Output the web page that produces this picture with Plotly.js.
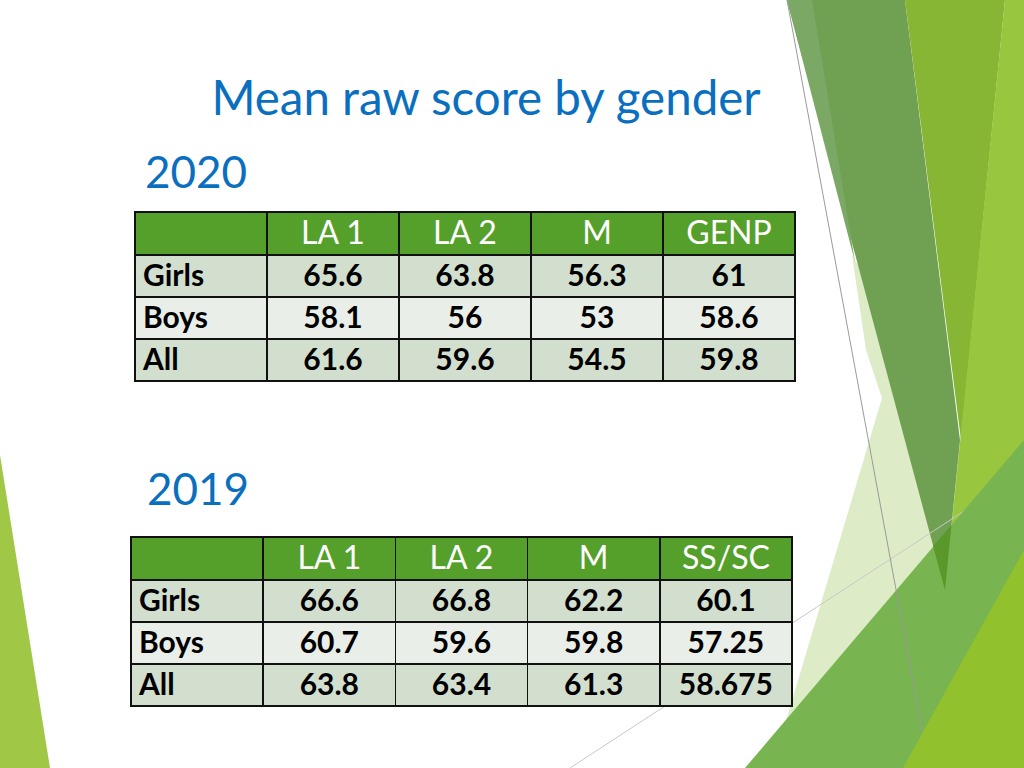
<!DOCTYPE html>
<html>
<head>
<meta charset="utf-8">
<script src="https://cdn.plot.ly/plotly-3.0.1.min.js"></script>
<style>html,body{margin:0;padding:0;background:#fff;}#chart{width:1024px;height:768px;}</style>
</head>
<body>
<div id="chart"></div>
<script>
// ---- data ----
var chartTitle = "Mean raw score by gender";
var years = ["2020", "2019"];
var rowLabels = ["Girls", "Boys", "All"];
var subjects2020 = ["LA 1", "LA 2", "M", "GENP"];
var girls2020 = [65.6, 63.8, 56.3, 61];
var boys2020 = [58.1, 56, 53, 58.6];
var all2020 = [61.6, 59.6, 54.5, 59.8];
var subjects2019 = ["LA 1", "LA 2", "M", "SS/SC"];
var girls2019 = [66.6, 66.8, 62.2, 60.1];
var boys2019 = [60.7, 59.6, 59.8, 57.25];
var all2019 = [63.8, 63.4, 61.3, 58.675];

// ---- styling ----
var W = 1024, H = 768;
var FONT = "Lato, 'Open Sans', sans-serif";
var BLUE = "#0B6FC0";
var HEAD = "#55A02A";
var ROW_DARK = "#D3DFCE";
var ROW_LIGHT = "#EAEEE8";

function px(x) { return x / W; }
function py(y) { return 1 - y / H; }
function poly(pts, color) {
  var d = pts.map(function (p, i) { return (i ? "L" : "M") + px(p[0]).toFixed(5) + "," + py(p[1]).toFixed(5); }).join(" ") + " Z";
  return { type: "path", xref: "paper", yref: "paper", path: d, fillcolor: color, line: { width: 0 }, layer: "below" };
}
function seg(a, b, color) {
  return { type: "line", xref: "paper", yref: "paper", x0: px(a[0]), y0: py(a[1]), x1: px(b[0]), y1: py(b[1]),
    line: { color: color, width: 1 }, layer: "below" };
}

function buildTable(subjects, g, b, a, dom) {
  var values = [rowLabels];
  var fills = [[ROW_DARK, ROW_LIGHT, ROW_DARK]];
  var aligns = ["left"];
  for (var i = 0; i < subjects.length; i++) {
    values.push([g[i], b[i], a[i]]);
    fills.push([ROW_DARK, ROW_LIGHT, ROW_DARK]);
    aligns.push("center");
  }
  return {
    type: "table",
    domain: dom,
    columnwidth: values.map(function () { return 1; }),
    header: {
      values: [""].concat(subjects),
      align: "center",
      height: 43,
      fill: { color: HEAD },
      line: { color: "#111", width: 1.6 },
      font: { family: FONT, size: 32, color: "#fff" }
    },
    cells: {
      values: values,
      align: aligns,
      height: 42,
      fill: { color: fills },
      line: { color: "#111", width: 1.6 },
      font: { family: FONT, size: 30, color: "#000", weight: 700 }
    }
  };
}

var t1 = buildTable(subjects2020, girls2020, boys2020, all2020,
  { x: [px(135), px(795.5)], y: [py(390), py(212)] });
var t2 = buildTable(subjects2019, girls2019, boys2019, all2019,
  { x: [px(131), px(792.5)], y: [py(715), py(537)] });

var shapes = [
  poly([[852, 255], [866, 350], [882, 398], [772, 768], [960, 768], [960, 440]], "#DEEBC7"),
  poly([[787, 0], [905, 0], [960, 440], [945, 590]], "#70A052"),
  poly([[787, 0], [812, 0], [855, 262]], "#7BA864"),
  poly([[905, 0], [1005, 0], [961, 440]], "#87B634"),
  poly([[1005, 0], [1024, 0], [1024, 768], [927, 768]], "#98C63E"),
  seg([570, 768], [1024, 472], "#C8C8C8"),
  poly([[745, 768], [1024, 440], [1024, 768]], "#78B450"),
  poly([[933, 546], [951.5, 525], [945, 590]], "#5A982C"),
  seg([787, 0], [929, 768], "#9A9A9A"),
  poly([[903, 768], [1024, 550], [1024, 768]], "#92C12E"),
  poly([[0, 455], [50, 768], [0, 768]], "#A0C846")
];

var layout = {
  width: W, height: H,
  margin: { l: 0, r: 0, t: 0, b: 0, pad: 0 },
  paper_bgcolor: "#fff",
  showlegend: false,
  title: { text: chartTitle, x: px(486), xanchor: "center", y: py(98), yanchor: "middle",
    font: { family: FONT, size: 47.5, color: BLUE } },
  shapes: shapes,
  annotations: [
    { text: years[0], xref: "paper", yref: "paper", x: px(143), y: py(171), xanchor: "left", yanchor: "middle",
      showarrow: false, font: { family: FONT, size: 44, color: BLUE } },
    { text: years[1], xref: "paper", yref: "paper", x: px(145), y: py(488), xanchor: "left", yanchor: "middle",
      showarrow: false, font: { family: FONT, size: 44, color: BLUE } }
  ]
};

Plotly.newPlot("chart", [t1, t2], layout, { staticPlot: true, displayModeBar: false });
</script>
</body>
</html>
